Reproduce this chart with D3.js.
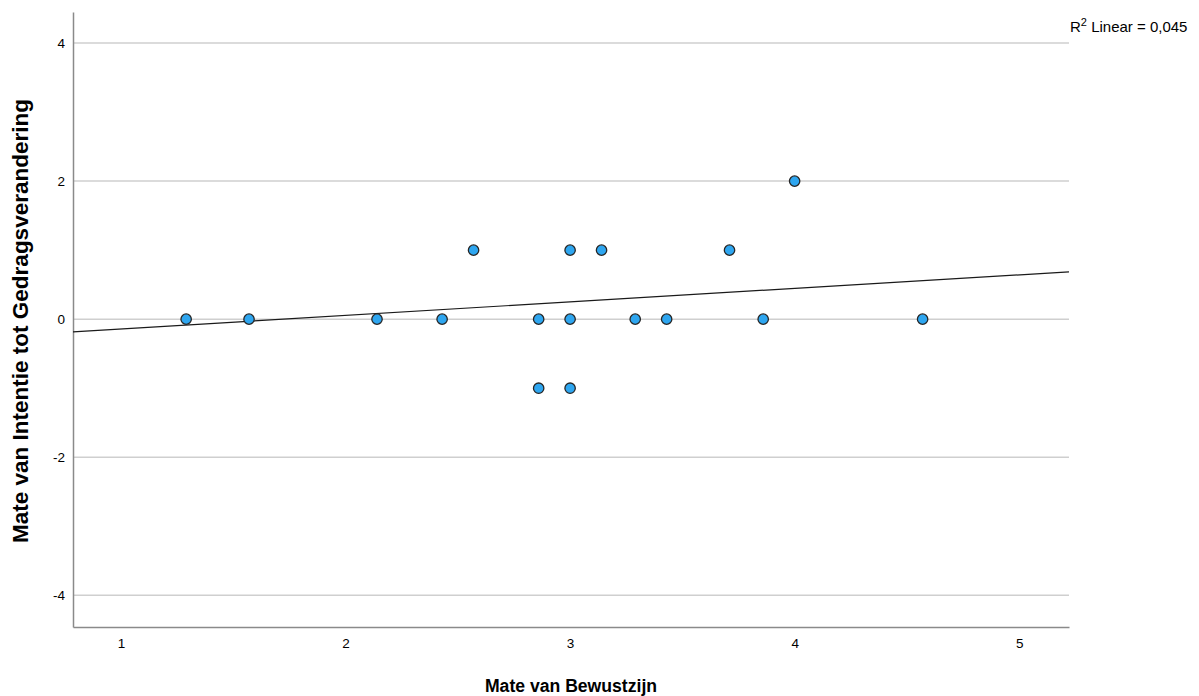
<!DOCTYPE html>
<meta charset="utf-8">
<style>

body {
  margin: 0;
  background: #fff;
}

text {
  font-family: "Liberation Sans", Arial, sans-serif;
  fill: #000;
}

</style>
<body>
<script src="https://d3js.org/d3.v7.min.js"></script>
<script>

// Bewustzijn (x) vs Intentie (y)
var bewustzijn = [1.29, 1.57, 2.14, 2.43, 2.57, 2.86, 2.86, 3.00, 3.00, 3.00, 3.14, 3.29, 3.43, 3.71, 3.86, 4.00, 4.57],
    intentie   = [0,    0,    0,    0,    1,    0,    -1,   1,    0,    -1,   1,    0,    0,    1,    0,    2,    0];

var xTicks = [1, 2, 3, 4, 5],
    yTicks = [-4, -2, 0, 2, 4];

// fitted line (intercept, slope) and R2
var fitIntercept = -0.338,
    fitSlope = 0.196,
    r2Label = "0,045";

var width = 1199,
    height = 696,
    margin = {top: 12, right: 130, bottom: 69, left: 73};

var x = d3.scaleLinear()
    .domain([0.786, 5.222])
    .range([margin.left, width - margin.right]);

var y = d3.scaleLinear()
    .domain([-4.46, 4.45])
    .range([height - margin.bottom, margin.top]);

// plain hyphen for negatives, like the original
var fmt = function(d) { return String(d); };

var svg = d3.select("body").append("svg")
    .attr("width", width)
    .attr("height", height);

// gridlines
svg.append("g")
  .selectAll("line")
    .data(yTicks)
  .enter().append("line")
    .attr("x1", x.range()[0])
    .attr("x2", x.range()[1])
    .attr("y1", function(d) { return y(d); })
    .attr("y2", function(d) { return y(d); })
    .attr("stroke", "#cfcfcf")
    .attr("stroke-width", 1.5);

// axes (no tick marks)
svg.append("g")
    .attr("transform", "translate(0," + y.range()[0] + ")")
    .call(d3.axisBottom(x).tickValues(xTicks).tickSize(0).tickPadding(11).tickFormat(fmt))
    .call(function(g) {
      g.select(".domain").attr("stroke", "#8a8a8a").attr("stroke-width", 1.5);
      g.selectAll("text").attr("font-size", 13.5).attr("font-family", "Liberation Sans, Arial, sans-serif");
    });

svg.append("g")
    .attr("transform", "translate(" + x.range()[0] + ",0)")
    .call(d3.axisLeft(y).tickValues(yTicks).tickSize(0).tickPadding(8).tickFormat(fmt))
    .call(function(g) {
      g.select(".domain").attr("stroke", "#8a8a8a").attr("stroke-width", 1.5);
      g.selectAll("text").attr("font-size", 13.5).attr("font-family", "Liberation Sans, Arial, sans-serif");
    });

// fit line
var xd = x.domain();
svg.append("line")
    .attr("x1", x(xd[0]))
    .attr("x2", x(xd[1]))
    .attr("y1", y(fitIntercept + fitSlope * xd[0]))
    .attr("y2", y(fitIntercept + fitSlope * xd[1]))
    .attr("stroke", "#1a1a1a")
    .attr("stroke-width", 1.2);

// points
svg.append("g")
  .selectAll("circle")
    .data(d3.range(bewustzijn.length))
  .enter().append("circle")
    .attr("cx", function(i) { return x(bewustzijn[i]); })
    .attr("cy", function(i) { return y(intentie[i]); })
    .attr("r", 5.2)
    .attr("fill", "#2ea6f0")
    .attr("stroke", "#262626")
    .attr("stroke-width", 1.3);

// R2 label
var r2 = svg.append("text")
    .attr("x", x.range()[1] + 1)
    .attr("y", 32)
    .attr("font-size", 15);
r2.append("tspan").text("R");
r2.append("tspan").attr("dy", -6).attr("font-size", 11).text("2");
r2.append("tspan").attr("dy", 6).text(" Linear = " + r2Label);

// axis titles
svg.append("text")
    .attr("x", (x.range()[0] + x.range()[1]) / 2)
    .attr("y", 692)
    .attr("text-anchor", "middle")
    .attr("font-size", 17.6)
    .attr("font-weight", "bold")
    .text("Mate van Bewustzijn");

svg.append("text")
    .attr("transform", "translate(28,321)rotate(-90)")
    .attr("text-anchor", "middle")
    .attr("font-size", 22.5)
    .attr("font-weight", "bold")
    .text("Mate van Intentie tot Gedragsverandering");

</script>
